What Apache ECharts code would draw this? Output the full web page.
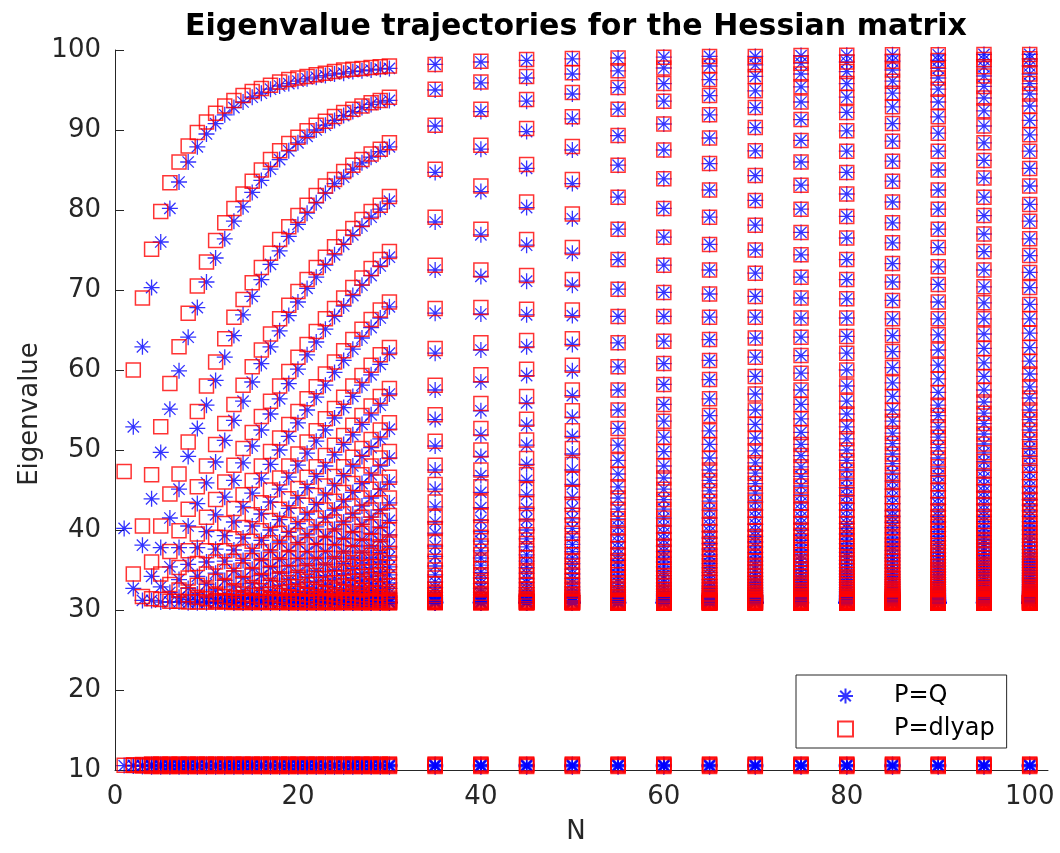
<!DOCTYPE html>
<html><head><meta charset="utf-8">
<script src="https://cdn.jsdelivr.net/npm/echarts@6/dist/echarts.min.js"></script>
<style>html,body{margin:0;padding:0;background:#fff}#c{width:1060px;height:853px}</style>
</head><body><div id="c"></div>
<script>
// Horizon lengths N that were evaluated
const N_VALUES = [1,2,3,4,5,6,7,8,9,10,11,12,13,14,15,16,17,18,19,20,21,22,23,24,25,26,27,28,29,30,35,40,45,50,55,60,65,70,75,80,85,90,95,100];
const X_TICKS = [0,20,40,60,80,100];
const Y_TICKS = [10,20,30,40,50,60,70,80,90,100];

// ---- P=Q (asterisks): upper eigenvalue band, one array per N ----
const q1=[40.2];
const q2=[52.9,32.7];
const q3=[62.9,38.1,31.2];
const q4=[70.3,43.9,34.2,31.2];
const q5=[76.0,49.7,37.8,32.9,31.0];
const q6=[80.2,55.1,41.5,35.4,32.2,31.0];
const q7=[83.5,59.9,45.1,37.8,33.8,31.6,31.0];
const q8=[86.0,64.1,49.2,40.5,35.7,32.7,31.3,30.9];
const q9=[87.9,67.8,52.7,43.3,37.8,34.2,32.0,31.1,30.9];
const q10=[89.5,71.0,55.6,45.9,39.8,36.0,33.2,31.6,31.0,30.9];
const q11=[90.8,74.0,58.7,48.5,41.9,37.6,34.6,32.5,31.4,31.0,30.9];
const q12=[91.9,76.4,61.6,51.2,44.1,39.3,36.1,33.7,32.0,31.2,30.97,30.9];
const q13=[92.8,78.6,64.3,53.7,46.2,41.0,37.5,34.9,32.9,31.7,31.1,30.95,30.9];
const q14=[93.5,80.4,66.9,56.1,48.4,42.9,39.0,36.2,34.0,32.4,31.5,31.05,30.9,30.9];
const q15=[94.1,82.2,69.2,58.5,50.5,44.6,40.5,37.4,35.1,33.3,32.0,31.35,31.0,30.9,30.9];
const q16=[94.6,83.7,71.3,60.8,52.5,46.4,42.0,38.7,36.3,34.3,32.8,31.8,31.2,31.0,30.9,30.9];
const q17=[95.1,85.1,73.2,62.9,54.5,48.2,43.5,40.0,37.4,35.3,33.7,32.4,31.6,31.1,31.0,30.9,30.9];
const q18=[95.5,86.3,74.9,64.9,56.4,50.0,45.1,41.3,38.5,36.3,34.6,33.1,32.0,31.4,31.1,30.95,30.9,30.9];
const q19=[95.8,87.4,76.7,66.8,58.3,51.7,46.6,42.7,39.7,37.4,35.5,33.9,32.7,31.8,31.3,31.05,30.95,30.9,30.9];
const q20=[96.1,88.4,78.2,68.5,60.1,53.4,48.1,44.0,40.8,38.4,36.4,34.7,33.4,32.3,31.6,31.2,31.0,30.9,30.9,30.9];
const q21=[96.4,89.2,79.6,70.2,61.9,55.0,49.6,45.3,42.0,39.4,37.3,35.6,34.1,32.9,32.1,31.5,31.15,31.0,30.9,30.9,30.9];
const q22=[96.6,90.0,80.9,71.6,63.5,56.6,51.1,46.7,43.2,40.4,38.2,36.4,34.9,33.6,32.6,31.9,31.4,31.1,30.97,30.9,30.9,30.9];
const q23=[96.8,90.6,82.1,73.1,65.1,58.1,52.5,48.0,44.4,41.5,39.2,37.3,35.7,34.3,33.2,32.3,31.7,31.3,31.05,30.97,30.9,30.9,30.9];
const q24=[97.0,91.2,83.3,74.4,66.7,59.7,54.0,49.4,45.6,42.5,40.1,38.2,36.5,35.0,33.9,32.8,32.05,31.55,31.2,31.05,30.95,30.9,30.9,30.9];
const q25=[97.1,91.8,84.1,75.7,68.0,61.2,55.3,50.7,46.8,43.6,41.0,39.0,37.3,35.8,34.5,33.4,32.5,31.9,31.4,31.15,31.0,30.95,30.9,30.9,30.9];
const q26=[97.3,92.3,85.1,76.9,69.3,62.6,56.7,51.9,48.0,44.7,42.0,39.8,38.0,36.5,35.2,34.0,33.0,32.3,31.7,31.3,31.1,31.0,30.95,30.9,30.9,30.9];
const q27=[97.4,92.8,85.9,78.0,70.6,64.0,58.1,53.2,49.2,45.8,43.0,40.7,38.8,37.2,35.9,34.6,33.6,32.8,32.1,31.6,31.3,31.1,31.0,30.95,30.9,30.9,30.9];
const q28=[97.5,93.2,86.6,79.1,71.8,65.3,59.4,54.4,50.3,46.9,44.0,41.6,39.6,38.0,36.5,35.3,34.2,33.3,32.5,31.9,31.5,31.2,31.05,30.97,30.9,30.9,30.9,30.9];
const q29=[97.6,93.5,87.3,80.1,73.0,66.5,60.7,55.6,51.4,48.0,45.1,42.5,40.4,38.6,37.2,36.0,34.8,33.8,32.9,32.2,31.75,31.4,31.15,31.0,30.95,30.9,30.9,30.9,30.9];
const q30=[97.7,93.7,87.9,81.1,74.1,67.9,62.1,57.0,52.6,49.0,46.0,43.4,41.2,39.4,37.9,36.6,35.4,34.4,33.4,32.7,32.1,31.6,31.3,31.1,31.0,30.95,30.9,30.9,30.9,30.9];
const q35=[98.2,95.0,90.5,84.7,78.5,72.5,67.1,62.1,57.5,53.8,50.5,47.5,45.1,42.9,41.0,39.6,38.0,36.7,35.5,34.4,33.5,32.8,32.2,31.8,31.5,31.3,31.15,31.05,31.0,30.95,30.9,30.9,30.9,30.9,30.9];
const q40=[98.5,95.9,92.3,87.6,82.3,76.9,71.7,67.0,62.5,58.5,54.9,51.9,49.2,46.8,44.7,42.8,41.2,39.8,38.6,37.4,36.5,35.6,34.7,34.0,33.3,32.7,32.2,31.9,31.55,31.35,31.15,31.05,31.0,30.95,30.9,30.9,30.9,30.9,30.9,30.9];
const q45=[98.7,96.5,93.6,89.8,85.2,80.3,75.6,71.1,66.9,62.9,59.3,55.9,53.1,50.6,48.2,46.2,44.4,42.7,41.3,40.0,38.9,37.9,36.9,36.1,35.3,34.6,33.9,33.4,32.8,32.4,32.0,31.7,31.45,31.25,31.15,31.05,31.0,30.95,30.9,30.9,30.9,30.9,30.9,30.9,30.9];
const q50=[98.9,97.0,94.5,91.4,87.5,83.3,78.9,74.6,70.6,66.8,63.2,59.9,56.8,54.1,51.7,49.5,47.5,45.7,44.1,42.7,41.4,40.2,39.1,38.2,37.3,36.5,35.8,35.1,34.5,33.9,33.4,32.9,32.5,32.1,31.8,31.6,31.4,31.2,31.1,31.05,31.0,30.95,30.9,30.9,30.9,30.9,30.9,30.9,30.9,30.9];
const q55=[99.0,97.4,95.3,92.6,89.3,85.6,81.6,77.6,73.8,70.1,66.7,63.4,60.4,57.5,55.0,52.7,50.6,48.7,47.0,45.4,44.0,42.6,41.4,40.4,39.4,38.5,37.7,36.9,36.2,35.6,35.0,34.4,33.9,33.4,32.9,32.5,32.2,31.9,31.7,31.5,31.3,31.2,31.1,31.05,31.0,30.95,30.9,30.9,30.9,30.9,30.9,30.9,30.9,30.9,30.9];
const q60=[99.1,97.75,95.8,93.6,90.75,87.5,83.9,80.2,76.6,73.1,69.7,66.7,63.6,60.8,58.2,55.7,53.6,51.6,49.8,48.0,46.5,45.1,43.8,42.6,41.5,40.5,39.6,38.8,38.0,37.3,36.6,36.0,35.4,34.85,34.3,33.9,33.4,33.0,32.6,32.3,32.0,31.8,31.6,31.4,31.3,31.2,31.1,31.05,31.0,30.95,30.9,30.9,30.9,30.9,30.9,30.9,30.9,30.9,30.9,30.9];
const q65=[99.2,98.0,96.3,94.3,91.9,89.0,85.8,82.5,79.1,75.7,72.5,69.5,66.6,63.8,61.2,58.8,56.4,54.3,52.4,50.7,49.0,47.5,46.2,44.9,43.6,42.5,41.5,40.6,39.8,39.0,38.3,37.6,36.9,36.4,35.8,35.3,34.7,34.3,33.8,33.4,33.0,32.7,32.4,32.1,31.9,31.7,31.5,31.35,31.25,31.15,31.1,31.05,31.0,30.95,30.9,30.9,30.9,30.9,30.9,30.9,30.9,30.9,30.9,30.9,30.9];
const q70=[99.2,98.15,96.7,94.9,92.8,90.3,87.4,84.3,81.2,78.1,75.0,72.1,69.2,66.6,64.0,61.6,59.2,57.0,55.0,53.2,51.5,49.9,48.4,47.1,45.8,44.6,43.5,42.5,41.6,40.7,39.9,39.2,38.5,37.9,37.2,36.6,36.1,35.6,35.1,34.65,34.2,33.8,33.45,33.1,32.75,32.45,32.2,31.95,31.75,31.6,31.45,31.35,31.25,31.15,31.07,31.03,31.0,30.97,30.9,30.9,30.9,30.9,30.9,30.9,30.9,30.9,30.9,30.9,30.9,30.9];
const q75=[99.3,98.35,97.0,95.4,93.5,91.3,88.7,86.0,83.1,80.1,77.2,74.4,71.6,69.0,66.5,64.1,61.8,59.6,57.5,55.7,53.9,52.2,50.7,49.3,47.9,46.7,45.5,44.4,43.4,42.5,41.6,40.8,40.0,39.35,38.7,38.1,37.5,36.9,36.4,36.0,35.5,35.0,34.6,34.2,33.8,33.45,33.1,32.8,32.5,32.25,32.05,31.85,31.7,31.55,31.4,31.3,31.2,31.13,31.07,31.03,31.0,30.97,30.9,30.9,30.9,30.9,30.9,30.9,30.9,30.9,30.9,30.9,30.9,30.9,30.9];
const q80=[99.35,98.5,97.3,95.8,94.1,92.2,89.9,87.35,84.7,82.0,79.2,76.5,73.8,71.3,68.9,66.5,64.2,62.1,60.0,58.0,56.1,54.5,52.9,51.4,50.0,48.7,47.5,46.4,45.3,44.3,43.3,42.5,41.6,40.8,40.2,39.5,38.85,38.3,37.7,37.2,36.7,36.2,35.75,35.3,34.9,34.5,34.15,33.8,33.45,33.15,32.8,32.55,32.3,32.1,31.9,31.75,31.6,31.45,31.35,31.27,31.19,31.12,31.05,31.03,31.0,30.97,30.9,30.9,30.9,30.9,30.9,30.9,30.9,30.9,30.9,30.9,30.9,30.9,30.9,30.9];
const q85=[99.4,98.6,97.5,96.1,94.6,92.9,90.8,88.6,86.1,83.6,81.0,78.4,75.9,73.3,71.0,68.7,66.4,64.3,62.3,60.3,58.4,56.7,55.0,53.6,52.1,50.8,49.5,48.3,47.1,46.1,45.1,44.15,43.3,42.4,41.7,40.95,40.3,39.65,39.0,38.5,37.95,37.45,36.9,36.5,36.1,35.65,35.25,34.8,34.45,34.1,33.8,33.5,33.2,32.9,32.6,32.4,32.2,32.0,31.8,31.65,31.55,31.45,31.35,31.25,31.18,31.1,31.05,31.02,31.0,30.97,30.9,30.9,30.9,30.9,30.9,30.9,30.9,30.9,30.9,30.9,30.9,30.9,30.9,30.9,30.9];
const q90=[99.4,98.7,97.7,96.5,95.1,93.5,91.65,89.6,87.35,85.0,82.5,80.1,77.6,75.3,72.9,70.7,68.5,66.4,64.4,62.5,60.6,58.9,57.2,55.6,54.3,52.9,51.6,50.3,49.0,47.9,46.8,45.8,44.9,44.0,43.2,42.4,41.7,41.0,40.4,39.8,39.2,38.65,38.1,37.65,37.15,36.7,36.3,35.9,35.5,35.1,34.75,34.4,34.05,33.8,33.5,33.2,32.9,32.65,32.45,32.25,32.05,31.9,31.75,31.6,31.5,31.4,31.3,31.22,31.15,31.1,31.05,31.02,31.0,30.97,30.9,30.9,30.9,30.9,30.9,30.9,30.9,30.9,30.9,30.9,30.9,30.9,30.9,30.9,30.9,30.9];
const q95=[99.45,98.8,97.9,96.75,95.45,94.0,92.4,90.5,88.4,86.2,84.0,81.6,79.3,77.0,74.8,72.5,70.4,68.4,66.4,64.5,62.7,60.9,59.2,57.5,56.0,54.6,53.3,52.0,50.75,49.65,48.55,47.5,46.55,45.6,44.8,44.0,43.2,42.4,41.7,41.05,40.4,39.9,39.3,38.8,38.3,37.85,37.35,36.9,36.5,36.15,35.75,35.4,35.0,34.7,34.35,34.05,33.75,33.5,33.2,32.95,32.7,32.5,32.3,32.1,31.95,31.8,31.65,31.55,31.45,31.35,31.27,31.2,31.13,31.08,31.04,31.02,31.0,30.97,30.9,30.9,30.9,30.9,30.9,30.9,30.9,30.9,30.9,30.9,30.9,30.9,30.9,30.9,30.9,30.9,30.9];
const q100=[99.45,98.9,98.0,97.0,95.8,94.5,93.0,91.2,89.4,87.35,85.2,83.0,80.7,78.6,76.4,74.3,72.2,70.3,68.2,66.4,64.6,62.8,61.1,59.5,57.9,56.5,55.0,53.8,52.5,51.3,50.2,49.2,48.1,47.2,46.3,45.4,44.6,43.8,43.1,42.4,41.7,41.05,40.5,40.0,39.45,38.9,38.45,38.0,37.55,37.1,36.7,36.35,36.0,35.65,35.3,34.95,34.6,34.3,34.0,33.75,33.5,33.2,32.95,32.75,32.5,32.3,32.15,32.0,31.85,31.7,31.6,31.5,31.4,31.32,31.25,31.18,31.12,31.08,31.04,31.02,31.0,30.97,30.9,30.9,30.9,30.9,30.9,30.9,30.9,30.9,30.9,30.9,30.9,30.9,30.9,30.9,30.9,30.9,30.9,30.9];

// ---- P=dlyap (squares): upper eigenvalue band, one array per N ----
const d1=[47.3];
const d2=[60.0,34.5];
const d3=[69.0,40.5,31.7];
const d4=[75.1,46.9,36.0,31.4];
const d5=[79.8,52.9,40.5,34.5,31.3];
const d6=[83.4,58.3,44.5,37.3,33.2,31.1];
const d7=[86.0,62.9,47.0,39.9,35.3,32.5,31.1];
const d8=[88.0,67.1,51.0,42.6,37.4,34.0,31.9,31.0];
const d9=[89.7,70.5,54.8,45.4,39.5,35.8,33.1,31.6,31.0];
const d10=[91.0,73.5,58.0,48.0,41.6,37.4,34.5,32.5,31.4,31.0];
const d11=[92.1,76.2,61.0,50.7,43.8,39.1,36.0,33.6,32.0,31.2,31.0];
const d12=[93.0,78.4,63.9,53.3,46.0,40.8,37.4,34.8,32.9,31.7,31.1,31.0];
const d13=[93.7,80.2,66.6,55.7,48.1,42.7,38.9,36.1,34.0,32.4,31.5,31.05,30.95];
const d14=[94.3,82.0,68.8,58.1,50.2,44.4,40.3,37.3,35.0,33.3,32.0,31.35,31.0,30.95];
const d15=[94.8,83.6,70.9,60.4,52.2,46.2,41.9,38.6,36.2,34.3,32.8,31.8,31.2,31.0,30.95];
const d16=[95.2,85.0,72.8,62.5,54.2,48.0,43.4,39.9,37.3,35.3,33.7,32.4,31.6,31.1,31.0,30.95];
const d17=[95.6,86.3,74.6,64.5,56.1,49.8,45.0,41.2,38.4,36.3,34.6,33.1,32.0,31.4,31.1,31.0,30.95];
const d18=[96.0,87.4,76.3,66.4,58.0,51.5,46.5,42.6,39.6,37.4,35.5,33.9,32.7,31.8,31.3,31.05,31.0,30.95];
const d19=[96.3,88.3,77.9,68.1,59.8,53.2,48.0,43.9,40.7,38.3,36.4,34.7,33.4,32.3,31.6,31.2,31.0,30.95,30.95];
const d20=[96.5,89.1,79.3,69.8,61.6,54.8,49.5,45.2,41.9,39.3,37.3,35.6,34.1,32.9,32.1,31.5,31.15,31.0,30.95,30.95];
const d21=[96.7,89.9,80.6,71.3,63.2,56.4,51.0,46.6,43.1,40.4,38.2,36.4,34.9,33.6,32.6,31.9,31.4,31.1,31.0,30.95,30.95];
const d22=[96.9,90.6,81.8,72.8,64.8,57.9,52.4,47.9,44.3,41.5,39.2,37.3,35.7,34.3,33.2,32.3,31.7,31.3,31.05,31.0,30.95,30.95];
const d23=[97.1,91.1,83.0,74.1,66.4,59.5,53.9,49.3,45.5,42.5,40.1,38.2,36.5,35.0,33.9,32.8,32.05,31.55,31.2,31.05,31.0,30.95,30.95];
const d24=[97.3,91.7,83.8,75.4,67.7,61.0,55.2,50.6,46.7,43.6,41.0,39.0,37.3,35.8,34.5,33.4,32.5,31.9,31.4,31.15,31.0,31.0,30.95,30.95];
const d25=[97.5,92.2,84.8,76.6,69.0,62.4,56.6,51.8,47.9,44.7,42.0,39.8,38.0,36.5,35.2,34.0,33.0,32.3,31.7,31.3,31.1,31.0,31.0,30.95,30.95];
const d26=[97.6,92.6,85.6,77.7,70.3,63.8,58.0,53.1,49.1,45.8,43.0,40.7,38.8,37.2,35.9,34.6,33.6,32.8,32.1,31.6,31.3,31.1,31.0,31.0,30.95,30.95];
const d27=[97.7,93.0,86.3,78.8,71.5,65.1,59.3,54.3,50.2,46.9,44.0,41.6,39.6,38.0,36.5,35.3,34.2,33.3,32.5,31.9,31.5,31.2,31.05,31.0,30.95,30.95,30.95];
const d28=[97.8,93.4,87.0,79.8,72.7,66.3,60.6,55.5,51.3,48.0,45.1,42.5,40.4,38.6,37.2,36.0,34.8,33.8,32.9,32.2,31.75,31.4,31.15,31.0,31.0,30.95,30.95,30.95];
const d29=[97.9,93.7,87.6,80.6,73.8,67.5,61.9,56.7,52.5,49.0,46.0,43.4,41.2,39.4,37.9,36.6,35.4,34.4,33.4,32.7,32.1,31.6,31.3,31.1,31.0,31.0,30.95,30.95,30.95];
const d30=[98.0,94.1,88.4,81.7,74.8,68.5,62.8,57.7,53.4,49.8,46.6,44.0,41.8,40.0,38.5,37.1,35.9,34.8,33.8,33.0,32.3,31.8,31.5,31.25,31.1,31.0,30.95,30.95,30.95,30.95];
const d35=[98.2,95.1,90.6,85.1,79.1,73.1,67.7,62.7,58.1,54.4,51.1,48.1,45.7,43.5,41.6,40.2,38.6,37.3,36.1,35.0,34.0,33.3,32.6,32.1,31.8,31.5,31.3,31.2,31.1,31.05,31.0,31.0,30.95,30.95,30.95];
const d40=[98.6,96.0,92.6,88.1,83.0,77.6,72.5,67.8,63.4,59.4,55.8,52.7,50.0,47.5,45.4,43.5,41.8,40.4,39.1,38.0,36.9,36.0,35.2,34.4,33.7,33.1,32.5,32.1,31.75,31.5,31.3,31.15,31.05,31.0,30.95,30.95,30.95,30.95,30.95,30.95];
const d45=[98.8,96.7,93.8,90.2,85.7,81.0,76.3,71.8,67.6,63.7,60.1,56.7,53.85,51.25,48.95,46.9,45.05,43.3,42.0,40.5,39.4,38.3,37.4,36.5,35.7,34.95,34.3,33.7,33.1,32.65,32.25,31.9,31.65,31.4,31.25,31.12,31.05,31.0,30.95,30.95,30.95,30.95,30.95,30.95,30.95];
const d50=[98.95,97.15,94.7,91.65,87.95,83.8,79.5,75.3,71.3,67.5,63.9,60.6,57.5,54.9,52.4,50.2,48.2,46.35,44.7,43.2,41.85,40.65,39.6,38.65,37.8,36.9,36.2,35.5,34.85,34.25,33.7,33.2,32.75,32.35,32.0,31.75,31.5,31.35,31.2,31.1,31.05,31.0,30.95,30.95,30.95,30.95,30.95,30.95,30.95,30.95];
// from N=55 on, the squares sit on the asterisks to within a pixel

// ---- lower eigenvalue band near 10.5 (distinct levels per N) ----
const qLow1=[10.55], qLow2=[10.5,10.6], qLow3=[10.45,10.55,10.6], qLowMany=[10.4,10.48,10.55,10.62,10.7];
const dLow1=[10.6], dLow2=[10.55,10.65], dLow3=[10.5,10.6,10.7], dLowMany=[10.45,10.55,10.65,10.75];

const Q_COLS=[q1,q2,q3,q4,q5,q6,q7,q8,q9,q10,q11,q12,q13,q14,q15,q16,q17,q18,q19,q20,q21,q22,q23,q24,q25,q26,q27,q28,q29,q30,q35,q40,q45,q50,q55,q60,q65,q70,q75,q80,q85,q90,q95,q100];
const D_COLS=[d1,d2,d3,d4,d5,d6,d7,d8,d9,d10,d11,d12,d13,d14,d15,d16,d17,d18,d19,d20,d21,d22,d23,d24,d25,d26,d27,d28,d29,d30,d35,d40,d45,d50,q55,q60,q65,q70,q75,q80,q85,q90,q95,q100];

const qData=[], dData=[];
N_VALUES.forEach((n,i)=>{
  const ql = n===1?qLow1:n===2?qLow2:n===3?qLow3:qLowMany;
  const dl = n===1?dLow1:n===2?dLow2:n===3?dLow3:dLowMany;
  ql.forEach(v=>qData.push([n,v]));
  Q_COLS[i].forEach(v=>qData.push([n,v]));
  dl.forEach(v=>dData.push([n,v]));
  D_COLS[i].forEach(v=>dData.push([n,v]));
});

const FONT='DejaVu Sans', AX='#262626';
const STAR='path://M8,0L8,16M0,8L16,8M2.34,2.34L13.66,13.66M2.34,13.66L13.66,2.34';
const chart=echarts.init(document.getElementById('c'),null,{renderer:'canvas'});
chart.setOption({
  animation:false,
  backgroundColor:'#fff',
  grid:{left:115,right:12,top:50,bottom:83,containLabel:false},
  xAxis:{type:'value',min:0,max:102,position:'bottom',
    axisLine:{show:true,onZero:false,lineStyle:{color:AX,width:1}},
    axisTick:{show:true,inside:true,length:9,customValues:X_TICKS,lineStyle:{color:AX}},
    axisLabel:{margin:14,fontFamily:FONT,fontSize:26,color:AX,customValues:X_TICKS},
    splitLine:{show:false}},
  yAxis:{type:'value',min:10,max:100,interval:10,position:'left',
    axisLine:{show:true,onZero:false,lineStyle:{color:AX,width:1}},
    axisTick:{show:true,inside:true,length:9,customValues:Y_TICKS,lineStyle:{color:AX}},
    axisLabel:{margin:14,fontFamily:FONT,fontSize:26,color:AX,customValues:Y_TICKS},
    splitLine:{show:false}},
  legend:{orient:'vertical',left:796,top:675,
    padding:[8,12,6,41],itemGap:7,itemWidth:15,itemHeight:15,
    backgroundColor:'#fff',borderColor:AX,borderWidth:1,
    textStyle:{fontFamily:FONT,fontSize:24,color:'#000',padding:[0,0,0,36],lineHeight:26},
    data:[{name:'P=Q',icon:STAR},{name:'P=dlyap',icon:'rect'}]},
  graphic:[
    {type:'text',x:576,y:27,style:{text:'Eigenvalue trajectories for the Hessian matrix',font:'bold 30px "DejaVu Sans"',fill:'#000',align:'center',verticalAlign:'middle',textAlign:'center',textVerticalAlign:'middle'}},
    {type:'text',x:30,y:414,rotation:Math.PI/2,style:{text:'Eigenvalue',font:'26px "DejaVu Sans"',fill:AX,align:'center',verticalAlign:'middle',textAlign:'center',textVerticalAlign:'middle'}},
    {type:'text',x:576,y:832,style:{text:'N',font:'26px "DejaVu Sans"',fill:AX,align:'center',verticalAlign:'middle',textAlign:'center',textVerticalAlign:'middle'}}
  ],
  series:[
    {name:'P=Q',type:'scatter',data:qData,symbol:STAR,symbolSize:16,clip:false,z:2,
      itemStyle:{color:'rgba(0,0,0,0)',borderColor:'#0000ff',borderWidth:1.3},emphasis:{disabled:true}},
    {name:'P=dlyap',type:'scatter',data:dData,symbol:'rect',symbolSize:14,clip:false,z:3,
      itemStyle:{color:'rgba(0,0,0,0)',borderColor:'#ff0000',borderWidth:1.5},emphasis:{disabled:true}}
  ]
});
</script></body></html>
